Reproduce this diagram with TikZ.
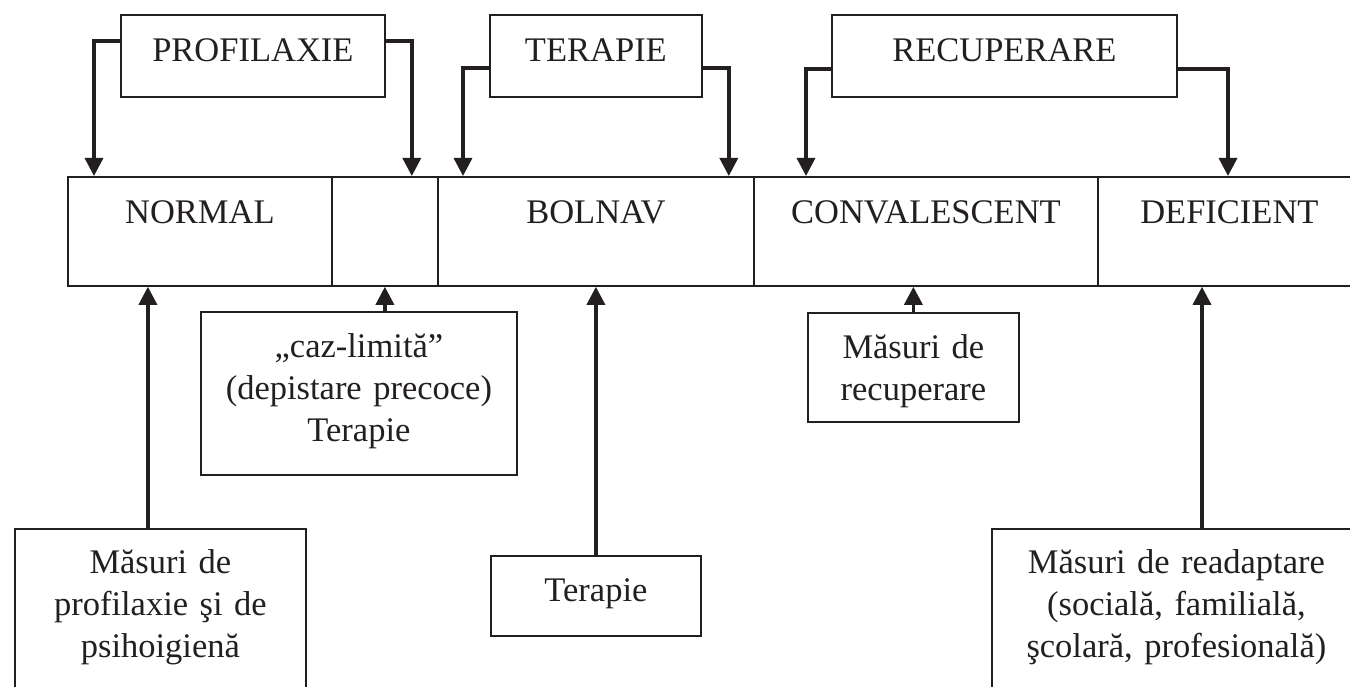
\documentclass[tikz,border=0pt]{standalone}
\usepackage{fontspec}
\setmainfont{Liberation Serif}
\usetikzlibrary{arrows.meta}
\definecolor{ink}{HTML}{231F20}

\begin{document}
\begin{tikzpicture}[x=1pt, y=-1pt,
    every node/.style={font=\fontsize{34.5}{42}\selectfont, text=ink},
    box/.style={draw=ink, line width=1.8pt, inner xsep=0pt, inner ysep=0pt, text height=47pt, anchor=north west},
    cell/.style={box, text depth=62pt},
    head/.style={box, text depth=35pt},
    low/.style={box, align=center, text height=46pt},
    arr/.style={draw=ink, line width=3.4pt, -{Triangle[length=18pt, width=18pt]}}]
    \useasboundingbox (0, 0) rectangle (1350, 687);

    \node [head, minimum width=264pt] (profilaxie) at (120, 14) {PROFILAXIE};
    \node [head, minimum width=212pt] (terapie) at (489, 14) {TERAPIE};
    \node [head, minimum width=345pt] (recuperare) at (831, 14) {RECUPERARE};

    \node [cell, minimum width=264pt] (normal) at (67, 176) {NORMAL};
    \node [cell, minimum width=106pt] (limita) at (331, 176) {};
    \node [cell, minimum width=316pt] (bolnav) at (437, 176) {BOLNAV};
    \node [cell, minimum width=344pt] (conv) at (753, 176) {CONVALESCENT};
    \node [cell, minimum width=263pt] (defic) at (1097, 176) {DEFICIENT};

    \node [low, text width=316pt, text depth=117pt] (caz) at (200, 311) {„caz-limită”\\(depistare precoce)\\Terapie};
    \node [low, text width=211pt, text depth=63pt] (mrec) at (807, 312) {Măsuri de\\recuperare};
    \node [low, text width=210pt, text depth=34pt] (mter) at (490, 555) {Terapie};
    \node [low, text width=291pt, text height=45pt, text depth=200pt] (mprof) at (14, 528) {Măsuri de\\profilaxie şi de\\psihoigienă};
    \node [low, text width=369pt, text height=45pt, text depth=200pt] (mreadapt) at (991, 528) {Măsuri de readaptare\\(socială, familială,\\şcolară, profesională)};

    \draw [arr] ([yshift=-27pt]profilaxie.north west) -| ([xshift=27pt]normal.north west);
    \draw [arr] ([yshift=-27pt]profilaxie.north east) -| ([xshift=-27pt]limita.north east);
    \draw [arr] ([yshift=-54pt]terapie.north west) -| ([xshift=26pt]bolnav.north west);
    \draw [arr] ([yshift=-54pt]terapie.north east) -| ([xshift=-26pt]bolnav.north east);
    \draw [arr] ([yshift=-55pt]recuperare.north west) -| ([xshift=53pt]conv.north west);
    \draw [arr] ([yshift=-55pt]recuperare.north east) -| ([xshift=131pt]defic.north west);

    \draw [arr] ([xshift=-12.5pt]mprof.north) to ([xshift=-12.5pt]mprof.north |- normal.south);
    \draw [arr] (limita.south |- caz.north) to (limita.south);
    \draw [arr] (mter.north) to (bolnav.south);
    \draw [arr] (mrec.north) to (mrec.north |- conv.south);
    \draw [arr] ([xshift=211pt]mreadapt.north west) to ([xshift=211pt]mreadapt.north west |- defic.south);
\end{tikzpicture}
\end{document}
